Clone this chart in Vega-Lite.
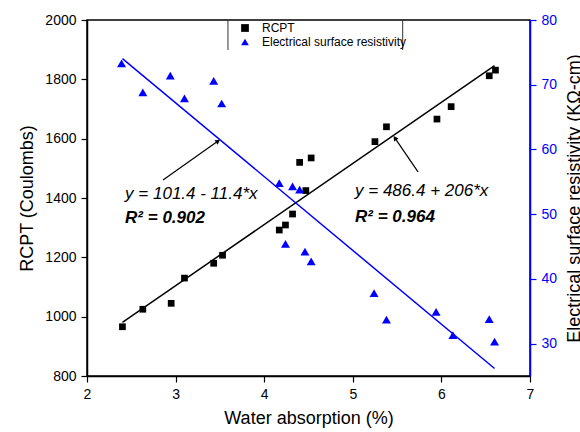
{
  "$schema": "https://vega.github.io/schema/vega-lite/v6.json",
  "width": 443,
  "height": 356,
  "autosize": {"type": "none"},
  "padding": {"left": 87, "top": 20, "right": 50, "bottom": 56},
  "background": "white",
  "config": {
    "font": "Liberation Sans",
    "view": {"stroke": "black", "strokeWidth": 1.5},
    "scale": {"zero": false},
    "axis": {"grid": false, "labelFontSize": 14, "titleFontSize": 18, "titleFontWeight": "normal", "labelColor": "black", "titleColor": "black", "domainColor": "black", "tickColor": "black", "domainWidth": 1.5, "tickWidth": 1.2, "labelPadding": 5, "labelOverlap": false, "labelFont": "Liberation Sans", "titleFont": "Liberation Sans"}
  },
  "datasets": {
    "rcpt": [
      {"wa": 2.4, "v": 966, "series": "RCPT"},
      {"wa": 2.63, "v": 1025, "series": "RCPT"},
      {"wa": 2.95, "v": 1045, "series": "RCPT"},
      {"wa": 3.1, "v": 1130, "series": "RCPT"},
      {"wa": 3.43, "v": 1180, "series": "RCPT"},
      {"wa": 3.53, "v": 1207, "series": "RCPT"},
      {"wa": 4.17, "v": 1292, "series": "RCPT"},
      {"wa": 4.24, "v": 1309, "series": "RCPT"},
      {"wa": 4.32, "v": 1346, "series": "RCPT"},
      {"wa": 4.4, "v": 1520, "series": "RCPT"},
      {"wa": 4.47, "v": 1425, "series": "RCPT"},
      {"wa": 4.53, "v": 1535, "series": "RCPT"},
      {"wa": 5.25, "v": 1590, "series": "RCPT"},
      {"wa": 5.38, "v": 1640, "series": "RCPT"},
      {"wa": 5.95, "v": 1666, "series": "RCPT"},
      {"wa": 6.11, "v": 1708, "series": "RCPT"},
      {"wa": 6.54, "v": 1812, "series": "RCPT"},
      {"wa": 6.61, "v": 1831, "series": "RCPT"}
    ],
    "esr": [
      {"wa": 2.39, "v": 73.3, "series": "Electrical surface resistivity"},
      {"wa": 2.63, "v": 68.8, "series": "Electrical surface resistivity"},
      {"wa": 2.94, "v": 71.4, "series": "Electrical surface resistivity"},
      {"wa": 3.1, "v": 67.9, "series": "Electrical surface resistivity"},
      {"wa": 3.43, "v": 70.6, "series": "Electrical surface resistivity"},
      {"wa": 3.52, "v": 67.1, "series": "Electrical surface resistivity"},
      {"wa": 4.17, "v": 54.8, "series": "Electrical surface resistivity"},
      {"wa": 4.32, "v": 54.3, "series": "Electrical surface resistivity"},
      {"wa": 4.4, "v": 53.8, "series": "Electrical surface resistivity"},
      {"wa": 4.24, "v": 45.4, "series": "Electrical surface resistivity"},
      {"wa": 4.46, "v": 44.2, "series": "Electrical surface resistivity"},
      {"wa": 4.53, "v": 42.7, "series": "Electrical surface resistivity"},
      {"wa": 5.24, "v": 37.8, "series": "Electrical surface resistivity"},
      {"wa": 5.38, "v": 33.7, "series": "Electrical surface resistivity"},
      {"wa": 5.94, "v": 34.9, "series": "Electrical surface resistivity"},
      {"wa": 6.13, "v": 31.3, "series": "Electrical surface resistivity"},
      {"wa": 6.54, "v": 33.8, "series": "Electrical surface resistivity"},
      {"wa": 6.6, "v": 30.3, "series": "Electrical surface resistivity"}
    ],
    "fitR": [{"wa": 2.4, "v": 980.8}, {"wa": 6.6, "v": 1846}],
    "fitE": [{"wa": 2.4, "v": 74.04}, {"wa": 6.6, "v": 26.16}],
    "arrowL": [{"x1": 2.858, "y1": 1461, "x2": 3.479, "y2": 1592}],
    "arrowR": [{"x1": 5.736, "y1": 1488, "x2": 5.476, "y2": 1602}],
    "eqs": [
      {"wa": 2.43, "v": 1412, "t": "y = 101.4 - 11.4*x"},
      {"wa": 5.025, "v": 1422, "t": "y = 486.4 + 206*x"}
    ],
    "r2s": [
      {"wa": 2.43, "v": 1331, "t": "R² = 0.902"},
      {"wa": 5.025, "v": 1337, "t": "R² = 0.964"}
    ],
    "legframe": [{"wa": 3.591, "v": 2000, "v2": 1899}, {"wa": 5.563, "v": 2000, "v2": 1899}]
  },
  "resolve": {"scale": {"y": "independent"}, "axis": {"y": "independent"}},
  "layer": [
    {
      "layer": [
        {
          "data": {"name": "legframe"},
          "mark": {"type": "rule", "color": "#333", "strokeWidth": 1},
          "encoding": {"x": {"field": "wa", "type": "quantitative", "scale": {"domain": [2, 7], "nice": false}}, "y": {"field": "v", "type": "quantitative", "scale": {"domain": [800, 2000], "nice": false}}, "y2": {"field": "v2"}}
        },
        {
          "data": {"name": "fitR"},
          "mark": {"type": "line", "color": "black", "strokeWidth": 1.5},
          "encoding": {
            "x": {"field": "wa", "type": "quantitative", "scale": {"domain": [2, 7], "nice": false}},
            "y": {"field": "v", "type": "quantitative", "scale": {"domain": [800, 2000], "nice": false}}
          }
        },
        {
          "data": {"name": "rcpt"},
          "mark": {"type": "point", "filled": true, "opacity": 1, "size": 45},
          "encoding": {
            "x": {"field": "wa", "type": "quantitative", "scale": {"domain": [2, 7], "nice": false},
              "axis": {"title": "Water absorption (%)", "format": "d", "values": [2, 2.5, 3, 3.5, 4, 4.5, 5, 5.5, 6, 6.5, 7], "labelExpr": "datum.value % 1 === 0 ? datum.label : ''", "tickSize": {"condition": {"test": "datum.value % 1 === 0", "value": 6}, "value": 3}, "titlePadding": 8, "labelFlush": false}},
            "y": {"field": "v", "type": "quantitative", "scale": {"domain": [800, 2000], "nice": false},
              "axis": {"title": "RCPT (Coulombs)", "orient": "left", "format": "d", "values": [800, 900, 1000, 1100, 1200, 1300, 1400, 1500, 1600, 1700, 1800, 1900, 2000], "labelExpr": "datum.value % 200 === 0 ? datum.label : ''", "tickSize": {"condition": {"test": "datum.value % 200 === 0", "value": 6}, "value": 3}, "titlePadding": 8, "labelFlush": false}},
            "color": {"field": "series", "type": "nominal", "scale": {"domain": ["RCPT", "Electrical surface resistivity"], "range": ["black", "blue"]},
              "legend": {"title": null, "orient": "none", "legendX": 152, "legendY": 2, "labelFontSize": 12, "labelFont": "Liberation Sans", "symbolSize": 60, "labelOffset": 11, "rowPadding": 2, "padding": 0, "symbolStrokeWidth": 0}},
            "shape": {"field": "series", "type": "nominal", "scale": {"domain": ["RCPT", "Electrical surface resistivity"], "range": ["square", "triangle-up"]}, "legend": {"title": null, "orient": "none", "legendX": 152, "legendY": 2, "labelFontSize": 12, "symbolSize": 60, "labelOffset": 11, "rowPadding": 2, "padding": 0}}
          }
        },
        {
          "data": {"name": "arrowL"},
          "mark": {"type": "rule", "color": "black", "strokeWidth": 1.2},
          "encoding": {"x": {"field": "x1", "type": "quantitative", "scale": {"domain": [2, 7], "nice": false}}, "y": {"field": "y1", "type": "quantitative", "scale": {"domain": [800, 2000], "nice": false}}, "x2": {"field": "x2"}, "y2": {"field": "y2"}}
        },
        {
          "data": {"name": "arrowL"},
          "mark": {"type": "point", "shape": "triangle-up", "filled": true, "color": "black", "opacity": 1, "size": 30, "angle": 55},
          "encoding": {"x": {"field": "x2", "type": "quantitative", "scale": {"domain": [2, 7], "nice": false}}, "y": {"field": "y2", "type": "quantitative", "scale": {"domain": [800, 2000], "nice": false}}}
        },
        {
          "data": {"name": "arrowR"},
          "mark": {"type": "rule", "color": "black", "strokeWidth": 1.2},
          "encoding": {"x": {"field": "x1", "type": "quantitative", "scale": {"domain": [2, 7], "nice": false}}, "y": {"field": "y1", "type": "quantitative", "scale": {"domain": [800, 2000], "nice": false}}, "x2": {"field": "x2"}, "y2": {"field": "y2"}}
        },
        {
          "data": {"name": "arrowR"},
          "mark": {"type": "point", "shape": "triangle-up", "filled": true, "color": "black", "opacity": 1, "size": 30, "angle": 326},
          "encoding": {"x": {"field": "x2", "type": "quantitative", "scale": {"domain": [2, 7], "nice": false}}, "y": {"field": "y2", "type": "quantitative", "scale": {"domain": [800, 2000], "nice": false}}}
        },
        {
          "data": {"name": "eqs"},
          "mark": {"type": "text", "align": "left", "baseline": "middle", "fontSize": 17, "fontStyle": "italic", "font": "Liberation Sans", "color": "black"},
          "encoding": {"x": {"field": "wa", "type": "quantitative", "scale": {"domain": [2, 7], "nice": false}}, "y": {"field": "v", "type": "quantitative", "scale": {"domain": [800, 2000], "nice": false}}, "text": {"field": "t"}}
        },
        {
          "data": {"name": "r2s"},
          "mark": {"type": "text", "align": "left", "baseline": "middle", "fontSize": 17, "fontStyle": "italic", "fontWeight": "bold", "font": "Liberation Sans", "color": "black"},
          "encoding": {"x": {"field": "wa", "type": "quantitative", "scale": {"domain": [2, 7], "nice": false}}, "y": {"field": "v", "type": "quantitative", "scale": {"domain": [800, 2000], "nice": false}}, "text": {"field": "t"}}
        }
      ]
    },
    {
      "layer": [
        {
          "data": {"name": "fitE"},
          "mark": {"type": "line", "color": "blue", "strokeWidth": 1.5},
          "encoding": {
            "x": {"field": "wa", "type": "quantitative", "scale": {"domain": [2, 7], "nice": false}},
            "y": {"field": "v", "type": "quantitative", "scale": {"domain": [25, 80], "nice": false},
              "axis": {"title": "Electrical surface resistivity (KΩ-cm)", "orient": "right", "values": [30, 40, 50, 60, 70, 80], "tickSize": 6, "domainColor": "blue", "tickColor": "blue", "labelColor": "blue", "titleAngle": 270, "titleBaseline": "top", "titlePadding": 9, "titleFontSize": 18}}
          }
        },
        {
          "data": {"name": "esr"},
          "mark": {"type": "point", "filled": true, "opacity": 1, "size": 80},
          "encoding": {
            "x": {"field": "wa", "type": "quantitative", "scale": {"domain": [2, 7], "nice": false}},
            "y": {"field": "v", "type": "quantitative", "scale": {"domain": [25, 80], "nice": false}},
            "color": {"field": "series", "type": "nominal"},
            "shape": {"field": "series", "type": "nominal"}
          }
        }
      ]
    }
  ]
}
